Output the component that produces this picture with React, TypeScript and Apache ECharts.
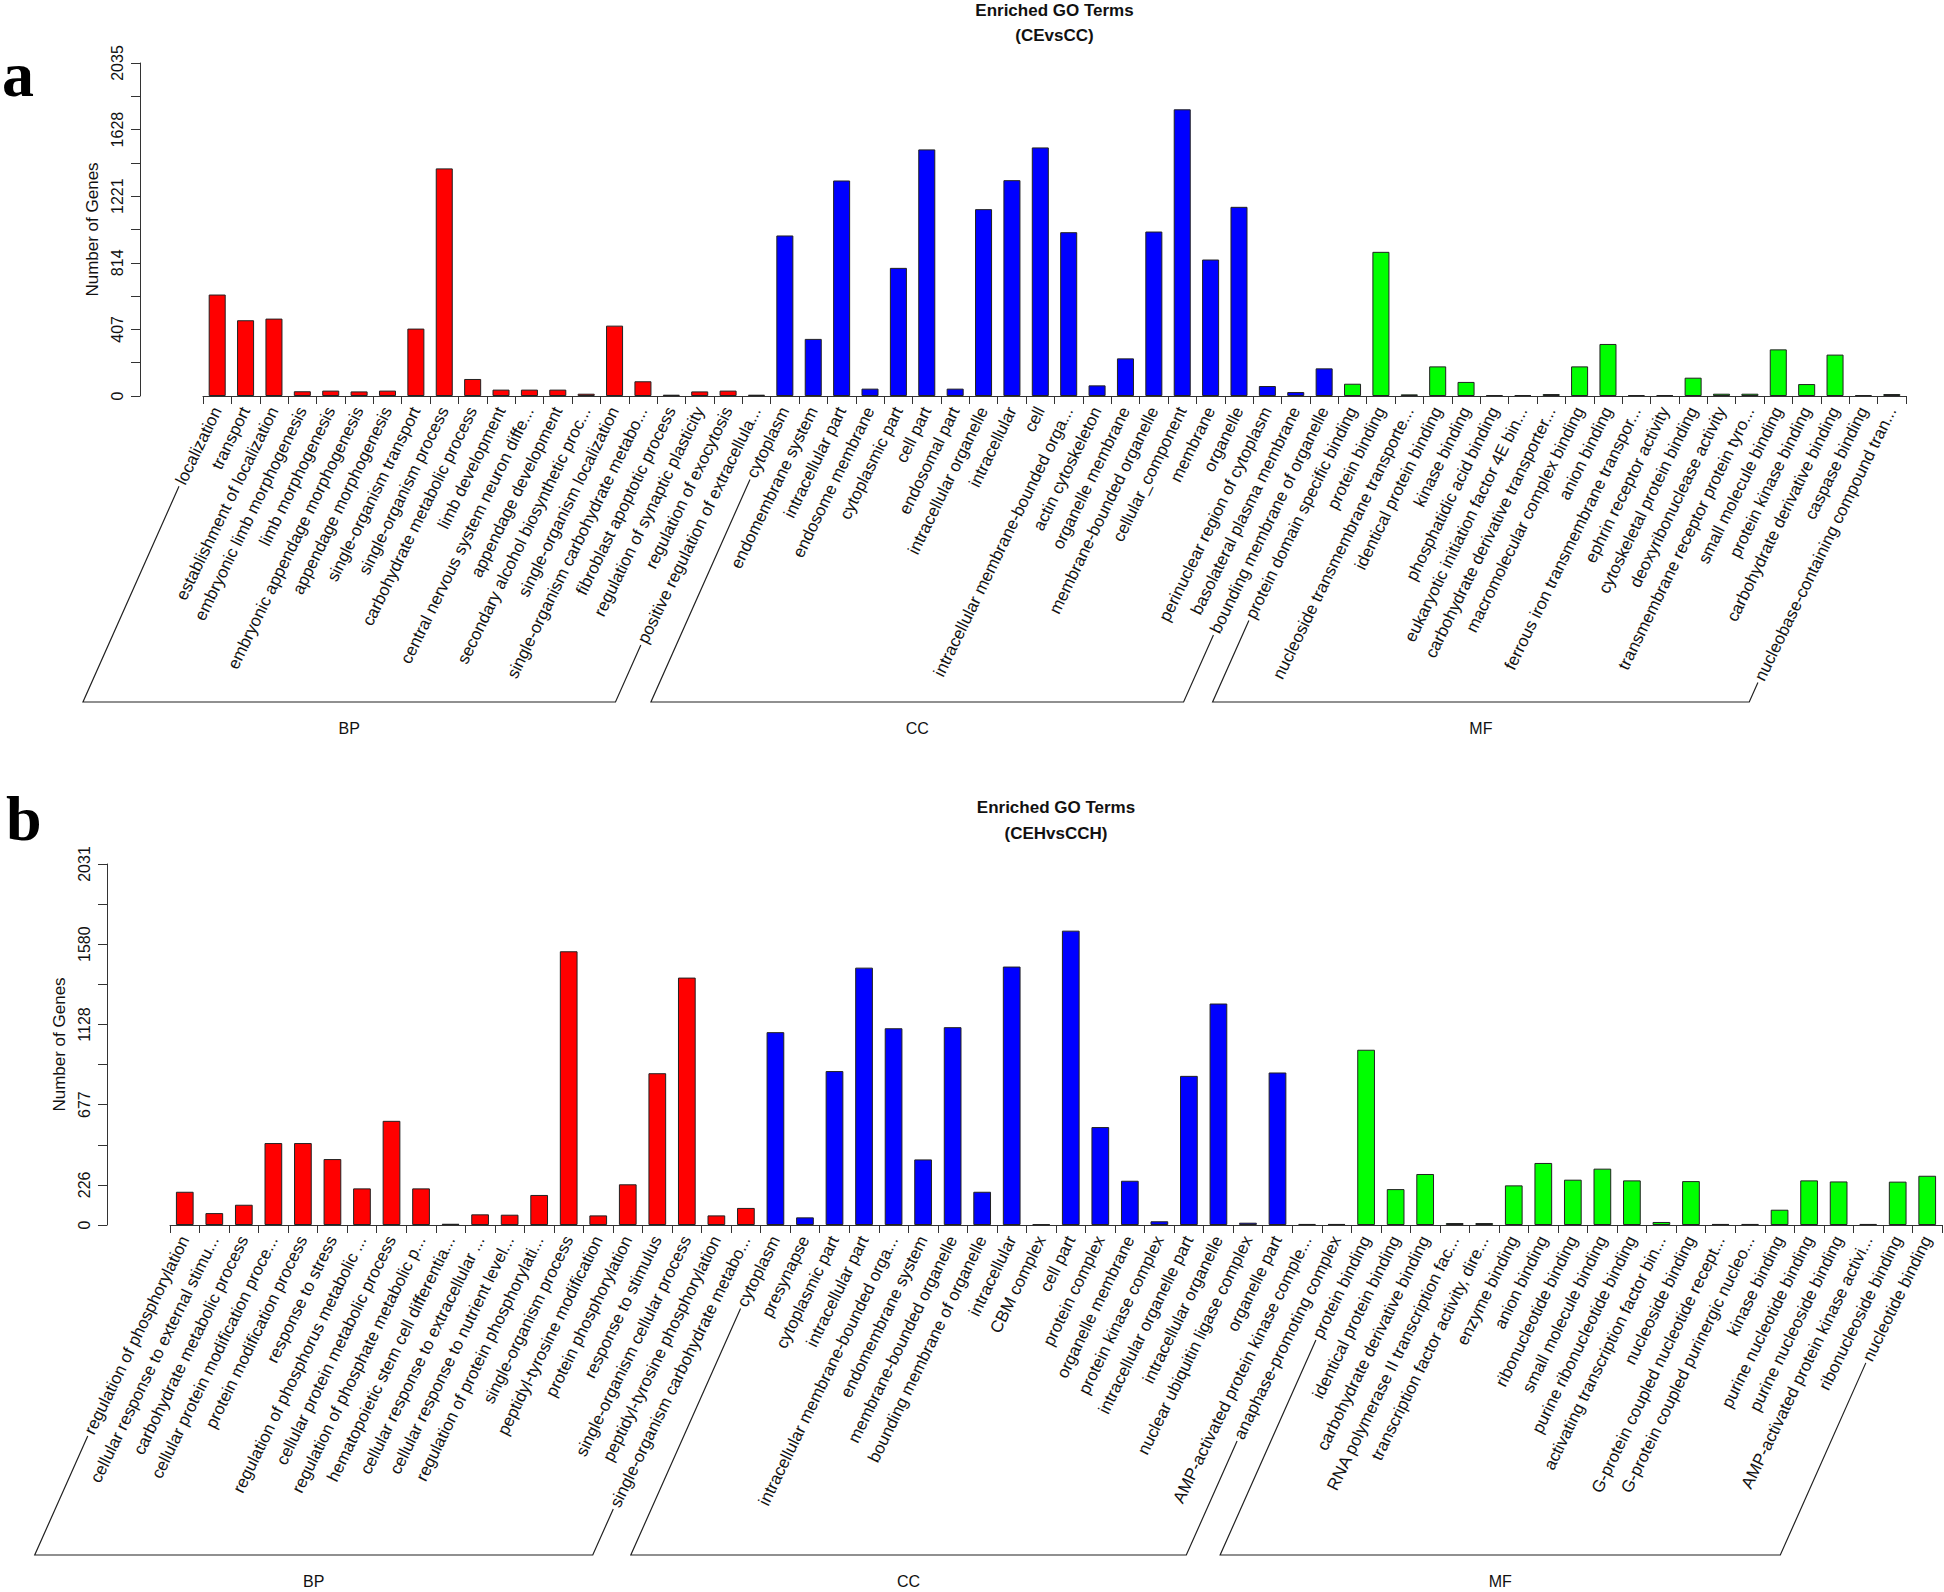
import React, { useEffect, useRef } from 'react';
import * as echarts from 'echarts';

// ---------- Panel a (CEvsCC) ----------
const aBP = ['localization', 'transport', 'establishment of localization', 'embryonic limb morphogenesis', 'limb morphogenesis', 'embryonic appendage morphogenesis', 'appendage morphogenesis', 'single-organism transport', 'single-organism process', 'carbohydrate metabolic process', 'limb development', 'central nervous system neuron diffe...', 'appendage development', 'secondary alcohol biosynthetic proc...', 'single-organism localization', 'single-organism carbohydrate metabo...', 'fibroblast apoptotic process', 'regulation of synaptic plasticity', 'regulation of exocytosis', 'positive regulation of extracellula...'];
const aBPVals = [620, 463, 473, 29, 33, 28, 33, 412, 1391, 104, 39, 39, 39, 14, 430, 90, 8, 28, 33, 8];
const aCC = ['cytoplasm', 'endomembrane system', 'intracellular part', 'endosome membrane', 'cytoplasmic part', 'cell part', 'endosomal part', 'intracellular organelle', 'intracellular', 'cell', 'intracellular membrane-bounded orga...', 'actin cytoskeleton', 'organelle membrane', 'membrane-bounded organelle', 'cellular_component', 'membrane', 'organelle', 'perinuclear region of cytoplasm', 'basolateral plasma membrane', 'bounding membrane of organelle'];
const aCCVals = [981, 349, 1317, 45, 783, 1507, 45, 1142, 1319, 1519, 1001, 65, 230, 1005, 1752, 834, 1156, 61, 24, 169];
const aMF = ['protein domain specific binding', 'protein binding', 'nucleoside transmembrane transporte...', 'identical protein binding', 'kinase binding', 'phosphatidic acid binding', 'eukaryotic initiation factor 4E bin...', 'carbohydrate derivative transporter...', 'macromolecular complex binding', 'anion binding', 'ferrous iron transmembrane transpor...', 'ephrin receptor activity', 'cytoskeletal protein binding', 'deoxyribonuclease activity', 'transmembrane receptor protein tyro...', 'small molecule binding', 'protein kinase binding', 'carbohydrate derivative binding', 'caspase binding', 'nucleobase-containing compound tran...'];
const aMFVals = [75, 881, 10, 181, 86, 6, 6, 12, 181, 318, 6, 6, 112, 14, 14, 285, 73, 253, 6, 12];
const aTickLabels = ['0', '407', '814', '1221', '1628', '2035'];

// ---------- Panel b (CEHvsCCH) ----------
const bBP = ['regulation of phosphorylation', 'cellular response to external stimu...', 'carbohydrate metabolic process', 'cellular protein modification proce...', 'protein modification process', 'response to stress', 'regulation of phosphorus metabolic ...', 'cellular protein metabolic process', 'regulation of phosphate metabolic p...', 'hematopoietic stem cell differentia...', 'cellular response to extracellular ...', 'cellular response to nutrient level...', 'regulation of protein phosphorylati...', 'single-organism process', 'peptidyl-tyrosine modification', 'protein phosphorylation', 'response to stimulus', 'single-organism cellular process', 'peptidyl-tyrosine phosphorylation', 'single-organism carbohydrate metabo...'];
const bBPVals = [187, 67, 114, 461, 461, 371, 206, 586, 206, 7, 60, 58, 169, 1540, 54, 229, 854, 1392, 54, 96];
const bCC = ['cytoplasm', 'presynapse', 'cytoplasmic part', 'intracellular part', 'intracellular membrane-bounded orga...', 'endomembrane system', 'membrane-bounded organelle', 'bounding membrane of organelle', 'intracellular', 'CBM complex', 'cell part', 'protein complex', 'organelle membrane', 'protein kinase complex', 'intracellular organelle part', 'intracellular organelle', 'nuclear ubiquitin ligase complex', 'organelle part', 'AMP-activated protein kinase comple...', 'anaphase-promoting complex'];
const bCCVals = [1085, 43, 866, 1448, 1107, 369, 1113, 187, 1454, 4, 1656, 551, 249, 21, 839, 1246, 13, 858, 6, 6];
const bMF = ['protein binding', 'identical protein binding', 'carbohydrate derivative binding', 'RNA polymerase II transcription fac...', 'transcription factor activity, dire...', 'enzyme binding', 'anion binding', 'ribonucleotide binding', 'small molecule binding', 'purine ribonucleotide binding', 'activating transcription factor bin...', 'nucleoside binding', 'G-protein coupled nucleotide recept...', 'G-protein coupled purinergic nucleo...', 'kinase binding', 'purine nucleotide binding', 'purine nucleoside binding', 'AMP-activated protein kinase activi...', 'ribonucleoside binding', 'nucleotide binding'];
const bMFVals = [986, 202, 287, 11, 11, 223, 349, 255, 317, 251, 17, 247, 6, 6, 86, 251, 245, 6, 244, 277];
const bTickLabels = ['0', '226', '677', '1128', '1580', '2031'];

const groupNames = ['BP', 'CC', 'MF'];
const groupColors = ['#FF0000', '#0000FF', '#00FF00'];

const FONT = '"Liberation Sans", Arial, Helvetica, sans-serif';
const LABEL_SIZE = 17;
const LABEL_ROT = 64;
const BRACKET_ROT = 66;
const LABEL_MARGIN = 12;

type Panel = {
  title: string;
  sub: string;
  letter: string;
  groups: string[][];
  vals: number[][];
  max: number;
  ticks: string[];
  splits: number;
  bracketDrop: number;
};

const panels: Panel[] = [
  { title: 'Enriched GO Terms', sub: '(CEvsCC)', letter: 'a', groups: [aBP, aCC, aMF], vals: [aBPVals, aCCVals, aMFVals], max: 2035, ticks: aTickLabels, splits: 10, bracketDrop: 306 },
  { title: 'Enriched GO Terms', sub: '(CEHvsCCH)', letter: 'b', groups: [bBP, bCC, bMF], vals: [bBPVals, bCCVals, bMFVals], max: 2031, ticks: bTickLabels, splits: 9, bracketDrop: 330 },
];

const grids = [
  { left: 203, right: 38, top: 63, height: 333 },
  { left: 170, right: 2, top: 864, height: 361 },
];

export default function App() {
  const ref = useRef<HTMLDivElement>(null);
  useEffect(() => {
    if (!ref.current) return;
    const chart = echarts.init(ref.current, null, { renderer: 'svg' });

    const xAxis: any[] = [];
    const yAxis: any[] = [];
    const series: any[] = [];
    panels.forEach((p, pi) => {
      const cats = ([] as string[]).concat(...p.groups);
      const data: any[] = [];
      p.groups.forEach((g, gi) => {
        g.forEach((_, k) => data.push({ value: p.vals[gi][k], itemStyle: { color: groupColors[gi] } }));
      });
      const interval = p.max / p.splits;
      xAxis.push({
        type: 'category', gridIndex: pi, data: cats,
        axisLine: { show: true, lineStyle: { color: '#333', width: 1 } },
        axisTick: { show: true, length: 8, lineStyle: { color: '#333' } },
        axisLabel: { interval: 0, rotate: LABEL_ROT, margin: LABEL_MARGIN, fontSize: LABEL_SIZE, fontFamily: FONT, color: '#111' },
        splitLine: { show: false },
      });
      yAxis.push({
        type: 'value', gridIndex: pi, min: 0, max: p.max, interval, offset: 63,
        name: 'Number of Genes', nameLocation: 'middle', nameGap: 36,
        nameTextStyle: { fontSize: 17, fontFamily: FONT, color: '#111' },
        axisLine: { show: true, lineStyle: { color: '#333', width: 1 } },
        axisTick: { show: true, length: 9, lineStyle: { color: '#333' } },
        axisLabel: {
          rotate: 90, margin: 15, fontSize: 16, fontFamily: FONT, color: '#111',
          formatter: (v: number) => {
            const s = String(Math.round(v));
            return p.ticks.includes(s) ? s : '';
          },
        },
        splitLine: { show: false },
      });
      series.push({
        type: 'bar', xAxisIndex: pi, yAxisIndex: pi, data, barCategoryGap: '40%',
        itemStyle: { borderColor: '#222', borderWidth: 1 },
      });
    });

    chart.setOption({
      animation: false,
      backgroundColor: '#ffffff',
      grid: grids,
      xAxis, yAxis, series,
    });

    // measure label lengths to draw group brackets
    const canvas = document.createElement('canvas');
    const ctx = canvas.getContext('2d')!;
    ctx.font = `${LABEL_SIZE}px ${FONT}`;
    const th = (LABEL_ROT * Math.PI) / 180;
    const cos = Math.cos(th), sin = Math.sin(th);
    const bth = (BRACKET_ROT * Math.PI) / 180;
    const bcot = Math.cos(bth) / Math.sin(bth);

    const graphics: any[] = [];
    panels.forEach((p, pi) => {
      const cats = ([] as string[]).concat(...p.groups);
      const ay = chart.convertToPixel({ yAxisIndex: pi }, 0) as number;
      const ytop = chart.convertToPixel({ yAxisIndex: pi }, p.max) as number;
      const x0 = chart.convertToPixel({ xAxisIndex: pi }, cats[0]) as number;
      const x1 = chart.convertToPixel({ xAxisIndex: pi }, cats[cats.length - 1]) as number;
      const step = (x1 - x0) / (cats.length - 1);
      const midX = (x0 - step / 2 + x1 + step / 2) / 2;
      const startPt = (idx: number) => {
        const cx = chart.convertToPixel({ xAxisIndex: pi }, cats[idx]) as number;
        const L = ctx.measureText(cats[idx]).width + 3;
        return [cx - L * cos, ay + LABEL_MARGIN + L * sin];
      };
      const base = ay + p.bracketDrop;
      let off = 0;
      p.groups.forEach((g, gi) => {
        const s0 = startPt(off);
        const s1 = startPt(off + g.length - 1);
        off += g.length;
        const l0 = [s0[0] - (base - s0[1]) * bcot, base];
        const r1 = [s1[0] - (base - s1[1]) * bcot, base];
        graphics.push({
          type: 'polyline', silent: true,
          shape: { points: [s0, l0, r1, s1] },
          style: { stroke: '#222', lineWidth: 1.2, fill: null },
        });
        graphics.push({
          type: 'text', silent: true, x: (l0[0] + r1[0]) / 2, y: base + 26,
          style: { text: groupNames[gi], font: `16px ${FONT}`, fill: '#111', align: 'center', verticalAlign: 'middle' },
        });
      });
      // titles
      graphics.push({
        type: 'text', silent: true, x: midX, y: ytop - (pi === 0 ? 53 : 57),
        style: { text: p.title, font: `bold 17px ${FONT}`, fill: '#111', align: 'center', verticalAlign: 'middle' },
      });
      graphics.push({
        type: 'text', silent: true, x: midX, y: ytop - (pi === 0 ? 28 : 31),
        style: { text: p.sub, font: `bold 17px ${FONT}`, fill: '#111', align: 'center', verticalAlign: 'middle' },
      });
      graphics.push({
        type: 'text', silent: true, x: pi === 0 ? 2 : 6, y: pi === 0 ? 74 : 818,
        style: { text: p.letter, font: `bold 64px "Liberation Serif", "Times New Roman", serif`, fill: '#000', align: 'left', verticalAlign: 'middle' },
      });
    });
    chart.setOption({ graphic: graphics });

    return () => chart.dispose();
  }, []);
  return <div ref={ref} style={{ position: 'absolute', left: 0, top: 0, width: 1944, height: 1592, background: '#fff' }} />;
}
